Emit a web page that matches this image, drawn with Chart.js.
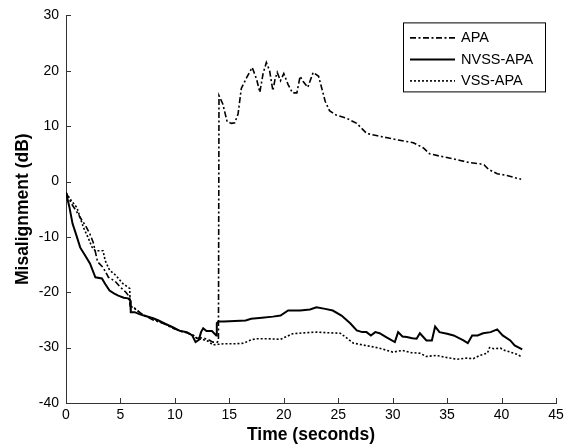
<!DOCTYPE html>
<html>
<head>
<meta charset="utf-8">
<script src="https://cdn.jsdelivr.net/npm/chart.js@4.4.1/dist/chart.umd.min.js"></script>
<style>
  body { margin: 0; background: #fff; }
  #wrap { width: 568px; height: 448px; }
</style>
</head>
<body>
<div id="wrap"><canvas id="misChart" width="568" height="448"></canvas></div>
<script>
// time (s) and misalignment (dB)
const seriesNames = ["APA", "NVSS-APA", "VSS-APA"];

const apaTime = [0, 0.5, 1, 1.3, 1.8, 2.2, 2.5, 2.9, 3.4, 3.9,
  4.5, 5, 5.5, 5.85, 5.9, 6.2, 7, 8, 9, 9.8,
  10.5, 11.1, 11.7, 12, 12.5, 13, 13.5, 13.9, 14.0, 14.05,
  14.4, 14.8, 15.2, 15.5, 15.8, 16.1, 16.6, 17.1, 17.5, 17.8,
  18.1, 18.4, 18.7, 19.0, 19.2, 19.4, 19.7, 20.0, 20.4, 20.8,
  21.2, 21.5, 21.8, 22.2, 22.7, 23.2, 23.8, 24.2, 24.8, 25.8,
  26.7, 27.6, 28.5, 29.5, 30.5, 31.9, 32.8, 33.4, 34.3, 35.3,
  36.2, 37.1, 38.0, 38.4, 38.8, 39.6, 40.5, 41.2, 41.8];
const apaVals = [-2, -4, -5.5, -6.5, -8, -9.5, -11, -14.5, -15.5, -17.3,
  -18, -19.1, -20, -20.9, -22.5, -22.7, -24, -25, -25.7, -26.5,
  -27, -27.3, -27.8, -28.3, -28.2, -28.5, -29, -29, -28.8, 15.5,
  14, 10.8, 10.5, 10.6, 12.2, 16.8, 18.8, 20.6, 18.5, 16.1,
  19.5, 21.5, 20, 16.4, 18.5, 19.7, 18.2, 19.5, 17.5, 16,
  16, 19, 18, 17, 19.7, 19, 14.5, 12.8, 12.0, 11.4,
  10.5, 8.7, 8.3, 7.9, 7.5, 7.0, 6.1, 5.0, 4.6, 4.2,
  3.8, 3.4, 3.2, 3.0, 2.2, 1.4, 1.1, 0.7, 0.4];

const nvssTime = [0, 0.3, 0.6, 1.0, 1.3, 1.8, 2.2, 2.7, 3.3, 3.6,
  4.0, 4.4, 4.8, 5.3, 5.7, 5.9, 5.95, 6.3, 6.8, 7.3,
  8.0, 8.5, 9.0, 9.8, 10.5, 11.1, 11.6, 11.9, 12.2, 12.4,
  12.6, 12.9, 13.4, 13.8, 13.85, 14.0, 14.5, 15.5, 16.5, 17.0,
  18.0, 19.0, 19.7, 20.4, 21.5, 22.4, 23.0, 23.8, 24.5, 25.3,
  26.1, 26.7, 27.2, 27.6, 28.0, 28.4, 28.8, 29.4, 30.2, 30.5,
  30.9, 31.3, 31.8, 32.2, 32.5, 33.1, 33.6, 33.9, 34.3, 35.0,
  35.6, 36.5, 36.9, 37.3, 37.8, 38.3, 39.0, 39.6, 40.1, 40.8,
  41.2, 41.9];
const nvssVals = [-2, -4.5, -7.6, -10, -11.9, -13.5, -14.8, -17.3, -17.5, -18.5,
  -19.7, -20.2, -20.6, -21, -21.1, -21.5, -23.6, -23.6, -24, -24.3,
  -24.7, -25.1, -25.6, -26.3, -27, -27.2, -27.8, -29, -28.6, -27.2,
  -26.5, -27, -27, -27.8, -25.6, -25.3, -25.3, -25.2, -25.1, -24.8,
  -24.6, -24.4, -24.2, -23.3, -23.3, -23.1, -22.7, -23, -23.3, -24.2,
  -25.6, -26.9, -27.2, -27.2, -27.8, -27.2, -27.4, -28.1, -29, -27.2,
  -28, -28.1, -28.3, -28.4, -27.4, -28.7, -28.7, -26.2, -27.2, -27.5,
  -27.8, -28.7, -29.2, -27.8, -27.8, -27.4, -27.2, -26.7, -27.8, -28.7,
  -29.6, -30.3];

const vssTime = [0, 0.5, 1.0, 1.6, 2.0, 2.4, 2.7, 3.4, 3.6, 4.0,
  4.6, 5.2, 5.85, 5.9, 6.2, 7, 8, 9, 9.8, 10.5,
  11.1, 11.7, 12, 12.5, 13, 13.5, 14, 14.5, 15.5, 16.3,
  17, 17.5, 18.5, 19.7, 20.8, 22, 23, 24, 25.2, 25.8,
  26.4, 27.5, 28.8, 30, 30.9, 31.7, 32.5, 33.1, 34, 35,
  35.9, 36.8, 37.4, 38, 38.7, 38.9, 39.3, 39.9, 40.3, 40.8,
  41.4, 41.9];
const vssVals = [-2, -3.5, -4.7, -8.3, -10, -11.9, -12.5, -12.5, -14.3, -16,
  -17, -18.4, -19.3, -22.5, -22.8, -24, -24.8, -25.6, -26.4, -27,
  -27.3, -27.8, -28.3, -28.5, -28.8, -29.5, -29.4, -29.3, -29.3, -29.2,
  -28.6, -28.4, -28.4, -28.5, -27.5, -27.3, -27.2, -27.3, -27.4, -28.3,
  -29.2, -29.6, -30.1, -30.8, -30.5, -30.9, -31, -31.6, -31.4, -31.8,
  -32.1, -31.9, -32, -31.4, -31, -30, -30.2, -30.1, -30.5, -30.8,
  -31.2, -31.7];

const xTicks = { min: 0, max: 45, step: 5 };
const yTicks = { min: -40, max: 30, step: 10 };

function pts(t, v) {
  return t.map((x, i) => ({ x: x, y: v[i] }));
}

// inward tick marks like the original plot
const innerTicks = {
  id: "innerTicks",
  afterDraw(chart) {
    const { ctx, chartArea, scales } = chart;
    ctx.save();
    ctx.strokeStyle = "#333";
    ctx.lineWidth = 1;
    ctx.beginPath();
    scales.x.ticks.forEach(t => {
      const px = Math.round(scales.x.getPixelForValue(t.value)) + 0.5;
      ctx.moveTo(px, chartArea.bottom);
      ctx.lineTo(px, chartArea.bottom - 5);
    });
    scales.y.ticks.forEach(t => {
      const py = Math.round(scales.y.getPixelForValue(t.value)) + 0.5;
      ctx.moveTo(chartArea.left, py);
      ctx.lineTo(chartArea.left + 5, py);
    });
    ctx.stroke();
    ctx.restore();
  }
};

// boxed legend in the top right corner
const boxLegend = {
  id: "boxLegend",
  afterDraw(chart) {
    const { ctx, chartArea } = chart;
    const right = chartArea.right - 11;
    const left = right - 142;
    const top = chartArea.top + 7;
    ctx.save();
    ctx.fillStyle = "#fff";
    ctx.fillRect(left, top, 142, 69);
    ctx.strokeStyle = "#000";
    ctx.lineWidth = 1;
    ctx.strokeRect(left + 0.5, top + 0.5, 142, 69);
    ctx.font = "14.5px 'Liberation Sans', Arial, sans-serif";
    ctx.textBaseline = "middle";
    chart.data.datasets.forEach((ds, i) => {
      const y = top + 15.5 + i * 21.5;
      ctx.strokeStyle = ds.borderColor;
      ctx.lineWidth = ds.borderWidth;
      ctx.setLineDash(ds.borderDash || []);
      ctx.beginPath();
      ctx.moveTo(left + 7, y);
      ctx.lineTo(left + 52, y);
      ctx.stroke();
      ctx.setLineDash([]);
      ctx.fillStyle = "#000";
      ctx.fillText(ds.label, left + 58, y + 0.5);
    });
    ctx.restore();
  }
};

const ctx = document.getElementById("misChart").getContext("2d");
new Chart(ctx, {
  type: "line",
  data: {
    datasets: [
      {
        label: seriesNames[0],
        data: pts(apaTime, apaVals),
        borderColor: "#000",
        borderWidth: 1.6,
        borderDash: [6, 2.5, 2, 2.5]
      },
      {
        label: seriesNames[1],
        data: pts(nvssTime, nvssVals),
        borderColor: "#000",
        borderWidth: 2
      },
      {
        label: seriesNames[2],
        data: pts(vssTime, vssVals),
        borderColor: "#000",
        borderWidth: 1.6,
        borderDash: [2, 2]
      }
    ]
  },
  options: {
    responsive: false,
    animation: false,
    parsing: true,
    elements: { point: { radius: 0 }, line: { tension: 0 } },
    layout: { padding: { top: 15, right: 12, left: 0, bottom: 0 } },
    plugins: { legend: { display: false }, tooltip: { enabled: false } },
    scales: {
      x: {
        type: "linear",
        min: xTicks.min,
        max: xTicks.max,
        ticks: {
          stepSize: xTicks.step,
          padding: 4,
          color: "#000",
          font: { family: "'Liberation Sans', Arial, sans-serif", size: 14 }
        },
        grid: { display: false, drawTicks: false },
        border: { display: true, color: "#333", width: 1 },
        title: {
          display: true,
          text: "Time (seconds)",
          color: "#000",
          font: { family: "'Liberation Sans', Arial, sans-serif", size: 17.5, weight: "bold" },
          padding: { top: 0, bottom: 2.5 }
        },
        afterFit: s => { s.height = 45; }
      },
      y: {
        type: "linear",
        min: yTicks.min,
        max: yTicks.max,
        ticks: {
          stepSize: yTicks.step,
          padding: 7,
          color: "#000",
          font: { family: "'Liberation Sans', Arial, sans-serif", size: 14 }
        },
        grid: { display: false, drawTicks: false },
        border: { display: true, color: "#333", width: 1 },
        title: {
          display: true,
          text: "Misalignment (dB)",
          color: "#000",
          font: { family: "'Liberation Sans', Arial, sans-serif", size: 17.5, weight: "bold" },
          padding: { top: 13, bottom: 0 }
        },
        afterFit: s => { s.width = 66; }
      }
    }
  },
  plugins: [innerTicks, boxLegend]
});
</script>
</body>
</html>
